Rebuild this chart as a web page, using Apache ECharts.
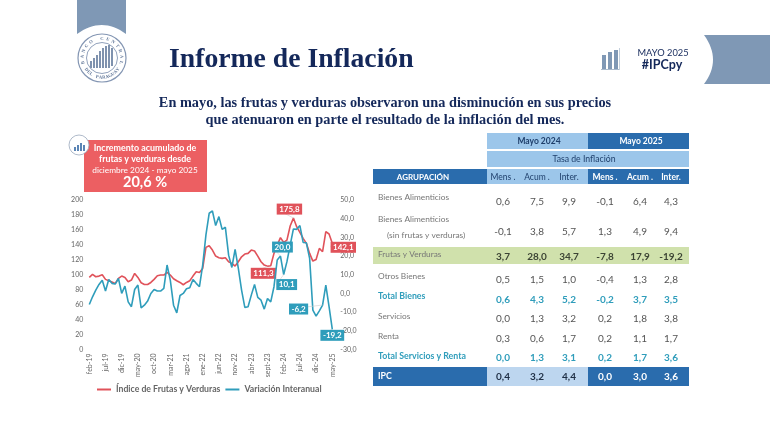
<!DOCTYPE html>
<html>
<head>
<meta charset="utf-8">
<title>Informe de Inflación</title>
<script src="https://cdn.jsdelivr.net/npm/echarts@6/dist/echarts.min.js"></script>
<style>
html, body { margin: 0; padding: 0; background: #fff; }
#main { width: 770px; height: 433px; }
</style>
</head>
<body>
<div id="main"></div>
<script>
// meses feb-19 .. may-25
var months = [
    'feb-19','mar-19','abr-19','may-19','jun-19','jul-19','ago-19','sept-19','oct-19','nov-19','dic-19',
    'ene-20','feb-20','mar-20','abr-20','may-20','jun-20','jul-20','ago-20','sept-20','oct-20','nov-20','dic-20',
    'ene-21','feb-21','mar-21','abr-21','may-21','jun-21','jul-21','ago-21','sept-21','oct-21','nov-21','dic-21',
    'ene-22','feb-22','mar-22','abr-22','may-22','jun-22','jul-22','ago-22','sept-22','oct-22','nov-22','dic-22',
    'ene-23','feb-23','mar-23','abr-23','may-23','jun-23','jul-23','ago-23','sept-23','oct-23','nov-23','dic-23',
    'ene-24','feb-24','mar-24','abr-24','may-24','jun-24','jul-24','ago-24','sept-24','oct-24','nov-24','dic-24',
    'ene-25','feb-25','mar-25','abr-25','may-25'
];
var indice = [
    96.4,100.4,97.3,98.2,100,93.8,92,90.2,88.4,95.1,98.2,96.4,90.6,92.9,101.8,96.4,
    89.3,87,87,89.7,93.8,98.7,99.6,99.6,103.1,99.6,94.6,92,89.7,86.6,89.7,92,
    98.2,104,103.1,108.5,136.6,138.8,133,125,122.8,121.9,122.8,117.4,115.2,111.6,117.4,124,
    127.7,128.6,133,131.7,125,117.4,112.9,111.3,112,128.6,139.7,149.6,143.3,146.4,165.2,175.8,
    164.3,156.7,148.7,142,128.6,118.3,120.5,135.3,130.8,157.6,154.5,142.1
];
var interanual = [
    -5.9,-1.8,1.8,4.8,7.1,1.3,7.5,5.4,5,8,0,3.9,-4.5,-7.1,2.1,4.5,
    -7.7,-6.3,-4.1,0,2.1,1.3,1.3,2.7,15.2,7.1,-6.3,-10.4,-1.1,0,2.5,3,
    7.5,5.4,3.6,15.2,31.3,42.9,44.1,36.3,41.1,34.3,35.4,20.5,13.9,23.6,13.4,1.8,
    -7.5,-7.1,-0.9,4.8,-2.1,-3.6,-8.4,-2.7,-4.5,3.6,17.9,20,10.1,17,25.9,34.5,
    34.3,36.3,27.3,27.1,18.8,-8.9,-12.1,-9.3,-6.2,4.5,-7.1,-19.2
];
// puntos con etiqueta en el grafico
var indiceMarks = [55, 63, 75];
var interanualMarks = [59, 60, 72, 75];

var groups = ['Bienes Alimenticios', '', 'Frutas y Verduras', 'Otros Bienes', 'Total Bienes', 'Servicios', 'Renta', 'Total Servicios y Renta', 'IPC'];
var subHeaders = ['Mens .', 'Acum .', 'Inter.', 'Mens .', 'Acum .', 'Inter.'];
var rowBienes = ['0,6', '7,5', '9,9', '-0,1', '6,4', '4,3'];
var rowSinFrutas = ['-0,1', '3,8', '5,7', '1,3', '4,9', '9,4'];
var rowFrutas = ['3,7', '28,0', '34,7', '-7,8', '17,9', '-19,2'];
var rowOtros = ['0,5', '1,5', '1,0', '-0,4', '1,3', '2,8'];
var rowTotalBienes = ['0,6', '4,3', '5,2', '-0,2', '3,7', '3,5'];
var rowServicios = ['0,0', '1,3', '3,2', '0,2', '1,8', '3,8'];
var rowRenta = ['0,3', '0,6', '1,7', '0,2', '1,1', '1,7'];
var rowTotalServ = ['0,0', '1,3', '3,1', '0,2', '1,7', '3,6'];
var rowIpc = ['0,4', '3,2', '4,4', '0,0', '3,0', '3,6'];

var RED = '#e0525a', TEAL = '#2f9dbb', NAVY = '#14285a', SLATE = '#7f98b5';
var DARK = '#2a6cad', LIGHT = '#9cc6ea', SOFT = '#bdd6ef', GREEN = '#d0e1ac';
var SANS = 'Lato, sans-serif', SERIF = '"Liberation Serif", serif';

var elements = [];
function rect(x, y, w, h, fill) {
    elements.push({type: 'rect', shape: {x: x, y: y, width: w, height: h}, style: {fill: fill}, silent: true});
}
function text(str, x, y, font, fill, align) {
    elements.push({type: 'text', x: x, y: y, silent: true, z: 10, style: {
        text: str, font: font, fill: fill, align: align || 'left', verticalAlign: 'middle'
    }});
}
function bars(list, fill) {
    for (var i = 0; i < list.length; i++) rect(list[i][0], list[i][1], list[i][2], list[i][3], fill);
}
function ring(cx, cy, r, stroke, width, fill) {
    elements.push({type: 'circle', shape: {cx: cx, cy: cy, r: r}, silent: true, z: 5,
        style: {fill: fill || 'none', stroke: stroke, lineWidth: width}});
}
// letras del sello sobre el circulo
function arcText(str, cx, cy, r, start, step, bottom) {
    for (var i = 0; i < str.length; i++) {
        var a = start + i * step;
        elements.push({type: 'text', silent: true, z: 6,
            x: cx + r * Math.sin(a), y: cy - r * Math.cos(a),
            rotation: bottom ? Math.PI - a : -a,
            style: {text: str[i], font: 'bold 4.6px ' + SERIF, fill: '#5d7396', align: 'center', verticalAlign: 'middle'}});
    }
}
// cinta con un borde curvo: p0 y p2 son los extremos, p1 el punto de control
function ribbon(corners, p0, p1, p2) {
    var pts = corners.slice();
    for (var t = 0; t <= 16; t++) {
        var u = t / 16;
        pts.push([
            (1 - u) * (1 - u) * p0[0] + 2 * u * (1 - u) * p1[0] + u * u * p2[0],
            (1 - u) * (1 - u) * p0[1] + 2 * u * (1 - u) * p1[1] + u * u * p2[1]
        ]);
    }
    elements.push({type: 'polygon', silent: true, shape: {points: pts}, style: {fill: SLATE}});
}

// cintas
ribbon([[77, 0], [126, 0]], [126, 34], [102, 16], [77, 34]);
ribbon([[770, 35], [770, 84]], [704, 84], [722, 60], [704, 35]);

// sello
ring(102, 58, 24, '#8496b3', 1.2);
ring(102, 58, 15.5, '#8496b3', 0.9);
arcText('BANCO CENTRAL', 102, 58, 19.5, -1.8, 0.3, false);
arcText('DEL PARAGUAY', 102, 58, 19.5, Math.PI + 0.93, -0.17, true);
bars([[90,61,2,7],[93,58,2,10],[96,55,2,13],[99,51,2,17],[102,48,2,20],[105,46,2,22],[108,45,2,23],[111,48,2,18]], '#7f92ae');

// titulos
text('Informe de Inflación', 169, 60, 'bold 27.7px ' + SERIF, NAVY);
text('En mayo, las frutas y verduras observaron una disminución en sus precios', 385, 103, 'bold 14.3px ' + SERIF, NAVY, 'center');
text('que atenuaron en parte el resultado de la inflación del mes.', 385, 120, 'bold 14.3px ' + SERIF, NAVY, 'center');

// icono y fecha arriba a la derecha
bars([[602,55,4,14],[608,52,4,17],[614,50,4,19]], '#7f98b5');
rect(601, 69, 18, 1, '#a9bacd');
rect(619, 48, 1, 22, '#c3cfdc');
text('MAYO 2025', 663, 53, '9.3px ' + SANS, NAVY, 'center');
text('#IPCpy', 662, 65, 'bold 12.5px ' + SANS, NAVY, 'center');

// recuadro rojo
rect(84, 140, 123, 52, '#ec5f62');
text('Incremento acumulado de', 145, 148, 'bold 8.9px ' + SANS, '#fff', 'center');
text('frutas y verduras desde', 145, 159, 'bold 8.9px ' + SANS, '#fff', 'center');
text('diciembre 2024 - mayo 2025', 145, 170, '8.3px ' + SANS, '#fff', 'center');
text('20,6 %', 145, 182, 'bold 14.5px ' + SANS, '#fff', 'center');
ring(79, 145, 10, '#9aa8bd', 0.8, '#fff');
elements[elements.length - 1].z = 11;
var iconBars = [[74,147,2,4],[77,145,2,6],[80,143,2,8],[83,145,2,6]];
for (var b = 0; b < iconBars.length; b++) {
    elements.push({type: 'rect', silent: true, z: 12,
        shape: {x: iconBars[b][0], y: iconBars[b][1], width: iconBars[b][2], height: iconBars[b][3]},
        style: {fill: '#5b85b5'}});
}

// tabla
var colX = [503, 537, 569, 605, 640, 671];
rect(487, 133, 101, 16, LIGHT);
rect(588, 133, 101, 16, DARK);
rect(487, 151, 202, 16, LIGHT);
rect(373, 169, 114, 15, DARK);
rect(487, 169, 101, 15, LIGHT);
rect(588, 169, 101, 15, DARK);
rect(373, 247, 316, 17, GREEN);
rect(373, 367, 114, 19, DARK);
rect(487, 367, 101, 19, SOFT);
rect(588, 367, 101, 19, DARK);
text('Mayo 2024', 539, 141, 'bold 8.5px ' + SANS, '#1f3f6b', 'center');
text('Mayo 2025', 641, 141, 'bold 8.5px ' + SANS, '#fff', 'center');
text('Tasa de Inflación', 584, 159, '8.7px ' + SANS, '#1f3f6b', 'center');
text('AGRUPACIÓN', 423, 177, 'bold 8px ' + SANS, '#fff', 'center');

var rows = [rowBienes, rowSinFrutas, rowFrutas, rowOtros, rowTotalBienes, rowServicios, rowRenta, rowTotalServ, rowIpc];
var rowY = [202, 232, 257, 280, 300, 319, 339, 358, 377];
var labelY = [197, 0, 254, 276, 296, 316, 336, 356, 376];
var rowColor = ['#555', '#555', '#3c4434', '#555', TEAL, '#555', '#555', TEAL, '#fff'];
var rowWeight = ['', '', 'bold ', '', 'bold ', '', '', 'bold ', 'bold '];
for (var c = 0; c < subHeaders.length; c++) {
    text(subHeaders[c], colX[c], 177, (c < 3 ? '' : 'bold ') + '8.5px ' + SANS, c < 3 ? '#1f3f6b' : '#fff', 'center');
}
for (var r = 0; r < rows.length; r++) {
    if (groups[r]) {
        var isTotal = r === 4 || r === 7 || r === 8;
        text(groups[r], 378, labelY[r], isTotal ? 'bold 8.8px ' + SANS : '8.3px ' + SANS,
            r === 8 ? '#fff' : (isTotal ? TEAL : '#777'));
    }
    for (var k = 0; k < 6; k++) {
        var color = rowColor[r];
        if (r === 8 && k < 3) color = '#1f2f45';
        text(rows[r][k], colX[k], rowY[r], rowWeight[r] + '10px ' + SANS, color, 'center');
    }
}
text('Bienes Alimenticios', 378, 219, '8.3px ' + SANS, '#777');
text('(sin frutas y verduras)', 387, 235, '8.4px ' + SANS, '#777');

// etiquetas de datos
var offsets = {
    'i55': [-4, 7], 'i63': [-4, -9], 'i75': [11, 4],
    'v59': [2, -9], 'v60': [3, 10], 'v72': [-24, 4], 'v75': [0, 6]
};
function markedData(values, marks, color) {
    return values.map(function (v, i) {
        if (marks.indexOf(i) < 0) return v;
        return {value: v, label: {
            show: true, position: 'inside', color: '#fff', fontSize: 8, fontWeight: 'bold', fontFamily: SANS,
            backgroundColor: color, padding: [1.5, 2.5],
            formatter: v.toFixed(1).replace('.', ',')
        }};
    });
}
function layoutFor(prefix) {
    return function (params) {
        var o = offsets[prefix + params.dataIndex];
        return o ? {dx: o[0], dy: o[1]} : {};
    };
}

var myChart = echarts.init(document.getElementById('main'), null, {renderer: 'canvas'});
var axisText = {color: '#666', fontSize: 7, fontFamily: SANS};
var option = {
    animation: false,
    backgroundColor: '#fff',
    textStyle: {fontFamily: SANS},
    graphic: {elements: elements},
    legend: {
        left: 92, top: 380, itemWidth: 14, itemHeight: 2, itemGap: 5, icon: 'rect',
        textStyle: {color: '#666', fontSize: 8.7, fontWeight: 'bold', fontFamily: SANS},
        data: ['Índice de Frutas y Verduras', 'Variación Interanual']
    },
    grid: {left: 89.3, right: 437.7, top: 200, bottom: 83.5},
    xAxis: {
        type: 'category',
        data: months,
        boundaryGap: false,
        axisLine: {show: false},
        axisTick: {show: false},
        axisLabel: Object.assign({interval: 4, rotate: 90, margin: 4}, axisText)
    },
    yAxis: [
        {
            type: 'value', min: 0, max: 200, interval: 20,
            splitLine: {show: false}, axisLine: {show: false}, axisTick: {show: false},
            axisLabel: Object.assign({margin: 6}, axisText)
        },
        {
            type: 'value', min: -30, max: 50, interval: 10, position: 'right',
            splitLine: {show: false}, axisLine: {show: false}, axisTick: {show: false},
            axisLabel: Object.assign({margin: 8, formatter: function (v) { return v.toFixed(1).replace('.', ','); }}, axisText)
        }
    ],
    series: [
        {
            name: 'Índice de Frutas y Verduras',
            type: 'line',
            yAxisIndex: 0,
            data: markedData(indice, indiceMarks, '#e0525a'),
            symbol: 'circle', symbolSize: 0, showSymbol: true, showAllSymbol: true,
            lineStyle: {color: RED, width: 1.6},
            itemStyle: {color: RED},
            labelLine: {show: true, lineStyle: {color: '#ccc', width: 0.6}},
            labelLayout: layoutFor('i'),
            z: 3
        },
        {
            name: 'Variación Interanual',
            type: 'line',
            yAxisIndex: 1,
            data: markedData(interanual, interanualMarks, TEAL),
            symbol: 'circle', symbolSize: 0, showSymbol: true, showAllSymbol: true,
            lineStyle: {color: TEAL, width: 1.6},
            itemStyle: {color: TEAL},
            labelLine: {show: true, lineStyle: {color: '#ccc', width: 0.6}},
            labelLayout: layoutFor('v'),
            z: 4
        }
    ]
};
myChart.setOption(option);
</script>
</body>
</html>
